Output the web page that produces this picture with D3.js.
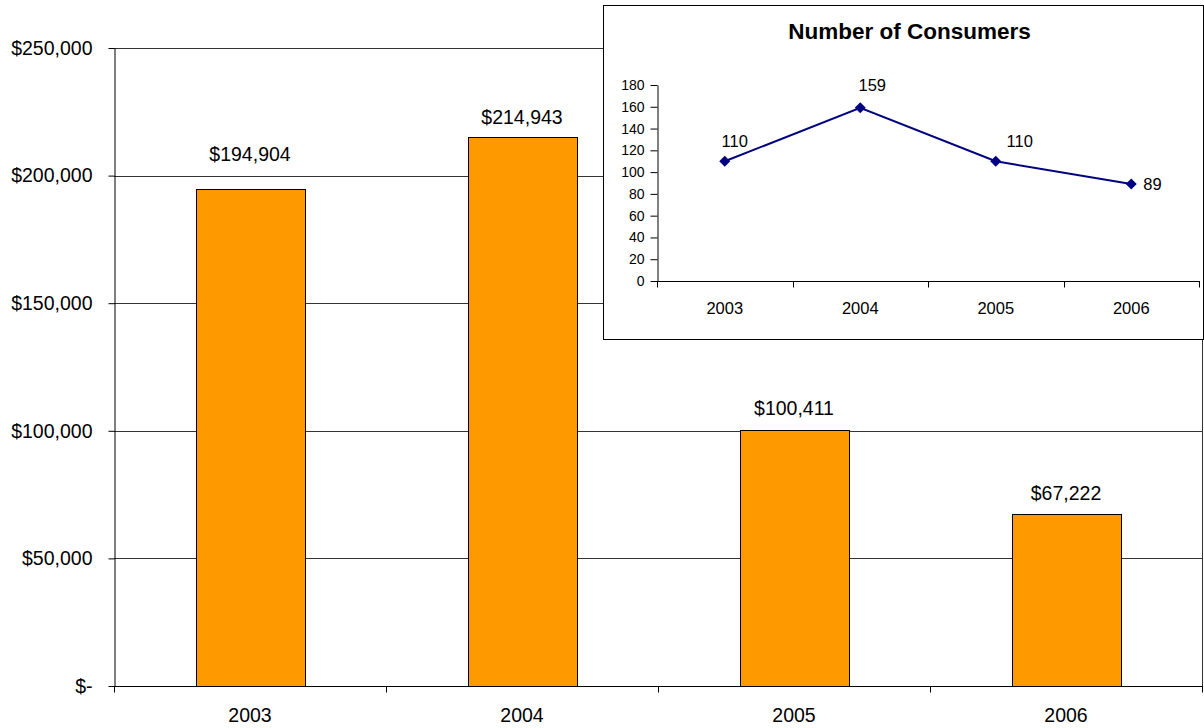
<!DOCTYPE html>
<html>
<head>
<meta charset="utf-8">
<script src="https://cdn.jsdelivr.net/npm/d3@7/dist/d3.min.js"></script>
<style>
  html, body { margin: 0; padding: 0; background: #fff; }
  svg { display: block; font-family: "Liberation Sans", Arial, Helvetica, sans-serif; }
</style>
</head>
<body>
<svg id="chart" width="1204" height="728"></svg>
<script>
// Annual amounts (main bar chart)
const years = ["2003", "2004", "2005", "2006"];
const amounts = [194904, 214943, 100411, 67222];
const amountTicks = [0, 50000, 100000, 150000, 200000, 250000];

// Number of consumers (inset line chart)
const consumers = [110, 159, 110, 89];
const consumerTicks = [0, 20, 40, 60, 80, 100, 120, 140, 160, 180];

const svg = d3.select("#chart");

// ---------- main bar chart ----------
const plot = { left: 114, right: 1202, top: 48, bottom: 686 };

const x = d3.scaleBand()
  .domain(years)
  .range([plot.left, plot.right])
  .paddingInner(0.6)
  .paddingOuter(0.3);

const y = d3.scaleLinear()
  .domain([0, 250000])
  .range([plot.bottom, plot.top]);

const moneyFmt = v => v === 0 ? "$-" : d3.format("$,")(v);

// horizontal gridlines
svg.append("g")
  .selectAll("line")
  .data(amountTicks.filter(t => t > 0))
  .join("line")
  .attr("x1", plot.left).attr("x2", plot.right)
  .attr("y1", d => Math.round(y(d)) + 0.5).attr("y2", d => Math.round(y(d)) + 0.5)
  .attr("stroke", "#333").attr("stroke-width", 1);

// right border of plot area
svg.append("line")
  .attr("x1", plot.right + 0.5).attr("x2", plot.right + 0.5)
  .attr("y1", plot.top).attr("y2", plot.bottom)
  .attr("stroke", "#333");

// bars
svg.append("g")
  .selectAll("rect")
  .data(years)
  .join("rect")
  .attr("x", d => Math.round(x(d)) + 0.5)
  .attr("y", (d, i) => Math.round(y(amounts[i])) + 0.5)
  .attr("width", Math.round(x.bandwidth()))
  .attr("height", (d, i) => Math.round(y(0)) - Math.round(y(amounts[i])))
  .attr("fill", "#FF9900")
  .attr("stroke", "#000")
  .attr("stroke-width", 1);

// value labels above bars (gap between bar top and text baseline)
const barLabelGap = [28, 13, 15, 14];
svg.append("g")
  .selectAll("text")
  .data(years)
  .join("text")
  .attr("x", d => x(d) + x.bandwidth() / 2)
  .attr("y", (d, i) => y(amounts[i]) - barLabelGap[i])
  .attr("text-anchor", "middle")
  .attr("font-size", "19.5px")
  .attr("fill", "#000")
  .text((d, i) => moneyFmt(amounts[i]));

// y axis
const yAxis = svg.append("g")
  .attr("transform", `translate(${plot.left + 0.5},0)`)
  .call(d3.axisLeft(y).tickValues(amountTicks).tickFormat(moneyFmt).tickSize(6).tickSizeOuter(0).tickPadding(16));
yAxis.selectAll("text").attr("font-size", "19.5px").attr("fill", "#000");
yAxis.selectAll("line, path").attr("stroke", "#000");

// x axis: ticks on category boundaries
const xAxisG = svg.append("g")
  .attr("transform", `translate(0,${plot.bottom + 0.5})`);
xAxisG.append("line")
  .attr("x1", plot.left).attr("x2", plot.right + 1)
  .attr("stroke", "#000");
const step = x.step();
const boundaries = d3.range(years.length + 1).map(i => plot.left + i * step);
xAxisG.selectAll("line.tick")
  .data(boundaries)
  .join("line")
  .attr("class", "tick")
  .attr("x1", d => Math.round(d) + 0.5).attr("x2", d => Math.round(d) + 0.5)
  .attr("y1", 0).attr("y2", 6)
  .attr("stroke", "#000");
xAxisG.selectAll("text")
  .data(years)
  .join("text")
  .attr("x", d => x(d) + x.bandwidth() / 2)
  .attr("y", 35)
  .attr("text-anchor", "middle")
  .attr("font-size", "19.5px")
  .attr("fill", "#000")
  .text(d => d);

// ---------- inset line chart ----------
const inset = { x0: 603, y0: 5, x1: 1203, y1: 339 };
const ip = { left: 657, right: 1199, top: 85, bottom: 281 };

const g2 = svg.append("g");
g2.append("rect")
  .attr("x", inset.x0 + 0.5).attr("y", inset.y0 + 0.5)
  .attr("width", inset.x1 - inset.x0).attr("height", inset.y1 - inset.y0)
  .attr("fill", "#fff").attr("stroke", "#000").attr("stroke-width", 1);

g2.append("text")
  .attr("x", 909.5).attr("y", 39)
  .attr("text-anchor", "middle")
  .attr("font-size", "22.5px")
  .attr("font-weight", "bold")
  .attr("fill", "#000")
  .text("Number of Consumers");

const x2 = d3.scaleBand().domain(years).range([ip.left, ip.right]).padding(0);
const y2 = d3.scaleLinear().domain([0, 180]).range([ip.bottom, ip.top]);

const y2Axis = g2.append("g")
  .attr("transform", `translate(${ip.left + 0.5},0)`)
  .call(d3.axisLeft(y2).tickValues(consumerTicks).tickSize(7).tickSizeOuter(0).tickPadding(6));
y2Axis.selectAll("text").attr("font-size", "14px").attr("fill", "#000");
y2Axis.selectAll("line, path").attr("stroke", "#000");

const x2Axis = g2.append("g").attr("transform", `translate(0,${ip.bottom + 0.5})`);
x2Axis.append("line").attr("x1", ip.left).attr("x2", ip.right + 1).attr("stroke", "#000");
const step2 = x2.step();
x2Axis.selectAll("line.tick")
  .data(d3.range(years.length + 1).map(i => ip.left + i * step2))
  .join("line")
  .attr("class", "tick")
  .attr("x1", d => Math.round(d) + 0.5).attr("x2", d => Math.round(d) + 0.5)
  .attr("y1", 0).attr("y2", 6)
  .attr("stroke", "#000");
x2Axis.selectAll("text")
  .data(years)
  .join("text")
  .attr("x", d => x2(d) + x2.bandwidth() / 2)
  .attr("y", 32)
  .attr("text-anchor", "middle")
  .attr("font-size", "16.5px")
  .attr("fill", "#000")
  .text(d => d);

const cx = d => x2(d) + x2.bandwidth() / 2;

g2.append("path")
  .datum(years)
  .attr("d", d3.line().x(d => cx(d)).y((d, i) => y2(consumers[i])))
  .attr("fill", "none")
  .attr("stroke", "#000080")
  .attr("stroke-width", 2);

g2.append("g")
  .selectAll("path")
  .data(years)
  .join("path")
  .attr("transform", (d, i) => `translate(${cx(d)},${y2(consumers[i])})`)
  .attr("d", "M0,-5.5L5.5,0L0,5.5L-5.5,0Z")
  .attr("fill", "#000080");

// per-label offsets (dx, dy, anchor) relative to each point
const labelPlacement = [
  { dx: 10, dy: -14, anchor: "middle" },
  { dx: 12, dy: -17, anchor: "middle" },
  { dx: 24, dy: -14, anchor: "middle" },
  { dx: 12, dy: 6, anchor: "start" }
];
g2.append("g")
  .selectAll("text")
  .data(years)
  .join("text")
  .attr("x", (d, i) => cx(d) + labelPlacement[i].dx)
  .attr("y", (d, i) => y2(consumers[i]) + labelPlacement[i].dy)
  .attr("text-anchor", (d, i) => labelPlacement[i].anchor)
  .attr("font-size", "16.5px")
  .attr("fill", "#000")
  .text((d, i) => consumers[i]);
</script>
</body>
</html>
